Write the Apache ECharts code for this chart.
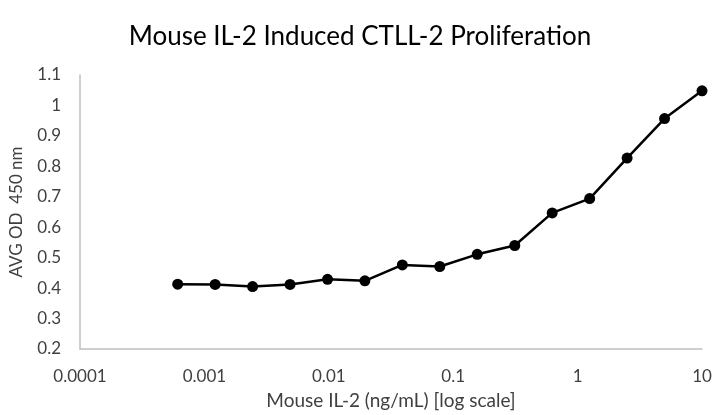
<!DOCTYPE html>
<html>
<head>
<meta charset="utf-8">
<script src="https://cdn.jsdelivr.net/npm/echarts@6/dist/echarts.min.js"></script>
<style>html,body{margin:0;padding:0;background:#fff}#c{width:720px;height:415px}</style>
</head>
<body>
<div id="c"></div>
<script>
var concentrations = [0.00061, 0.00122, 0.00244, 0.00488, 0.00977, 0.0195, 0.039, 0.078, 0.156, 0.3125, 0.625, 1.25, 2.5, 5, 10];
var avgOD = [0.413, 0.412, 0.405, 0.412, 0.429, 0.424, 0.476, 0.471, 0.511, 0.540, 0.647, 0.694, 0.827, 0.957, 1.048];
var titleText = 'Mouse IL-2 Induced CTLL-2 Proliferation';
var xName = 'Mouse IL-2 (ng/mL) [log scale]';
var yName = 'AVG OD  450 nm';

var FONT = 'Lato';
var chart = echarts.init(document.getElementById('c'));
chart.setOption({
  animation: false,
  title: {text: titleText, left: 'center', top: 19,
    textStyle: {fontFamily: FONT, fontWeight: 'normal', fontSize: 26, color: '#000'}},
  grid: {left: 77, right: 18, top: 75, bottom: 65, containLabel: false},
  xAxis: {
    type: 'log', logBase: 10, min: 0.0001, max: 10,
    name: xName, nameLocation: 'middle', nameGap: 42,
    nameTextStyle: {fontFamily: FONT, fontSize: 19, color: '#404040'},
    axisLine: {show: true, lineStyle: {color: '#bfbfbf', width: 1.5}},
    axisTick: {show: false}, splitLine: {show: false}, minorTick: {show: false},
    axisLabel: {fontFamily: FONT, fontSize: 17, color: '#404040', margin: 19,
      formatter: function (v) { return parseFloat(Number(v).toPrecision(6)).toString(); }}
  },
  yAxis: {
    type: 'value', min: 0.2, max: 1.1, interval: 0.1,
    name: yName, nameLocation: 'middle', nameGap: 55,
    nameTextStyle: {fontFamily: FONT, fontSize: 17, color: '#404040'},
    axisLine: {show: true, lineStyle: {color: '#bfbfbf', width: 1.5}},
    axisTick: {show: false}, splitLine: {show: false},
    axisLabel: {fontFamily: FONT, fontSize: 17, color: '#404040', margin: 19,
      formatter: function (v) { return parseFloat(Number(v).toFixed(2)).toString(); }}
  },
  series: [{
    type: 'line',
    data: concentrations.map(function (c, i) { return [c, avgOD[i]]; }),
    symbol: 'circle', symbolSize: 11,
    lineStyle: {color: '#000', width: 2.5},
    itemStyle: {color: '#000'}
  }]
});
</script>
</body>
</html>
